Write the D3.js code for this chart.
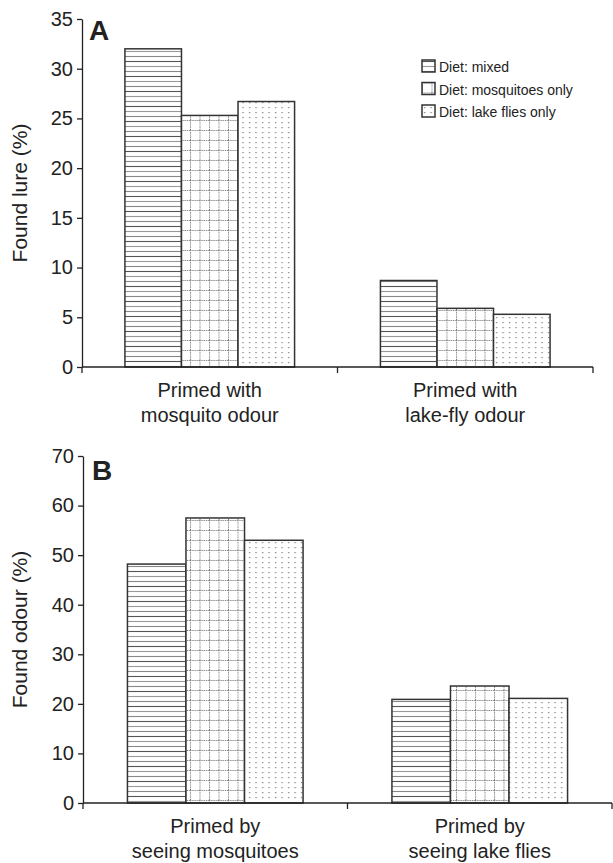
<!DOCTYPE html>
<html>
<head>
<meta charset="utf-8">
<script src="https://cdn.jsdelivr.net/npm/d3@7"></script>
<style>
  body { margin: 0; background: #fff; }
  text { font-family: "Liberation Sans", Arial, sans-serif; fill: #222; }
</style>
</head>
<body>
<div id="drawArea"></div>
<script>
// series (diet groups)
var seriesNames = ['Diet: mixed', 'Diet: mosquitoes only', 'Diet: lake flies only'];
var seriesKeys = ['mixed', 'mosq', 'lake'];

// panel A
var catsA = [['Primed with', 'mosquito odour'], ['Primed with', 'lake-fly odour']];
var valuesA = [[32, 25.3, 26.7], [8.7, 5.9, 5.3]];
var ticksA = [0, 5, 10, 15, 20, 25, 30, 35];

// panel B
var catsB = [['Primed by', 'seeing mosquitoes'], ['Primed by', 'seeing lake flies']];
var valuesB = [[48.2, 57.5, 53], [20.9, 23.6, 21.1]];
var ticksB = [0, 10, 20, 30, 40, 50, 60, 70];

var W = 613, H = 863;

var svg = d3.select('#drawArea')
    .append('svg')
    .attr('width', W)
    .attr('height', H);

// fill patterns
var defs = svg.append('defs');

var pMixed = defs.append('pattern')
    .attr('id', 'pat-mixed')
    .attr('patternUnits', 'userSpaceOnUse')
    .attr('width', 20).attr('height', 15);
pMixed.append('rect').attr('width', 20).attr('height', 15).attr('fill', '#fff');
[[1, '#555'], [6, '#999'], [11, '#888']].forEach(function (l) {
    pMixed.append('line')
        .attr('x1', 0).attr('x2', 20)
        .attr('y1', l[0] + 0.5).attr('y2', l[0] + 0.5)
        .attr('stroke', l[1]).attr('stroke-width', 1.1);
});

var pMosq = defs.append('pattern')
    .attr('id', 'pat-mosq')
    .attr('patternUnits', 'userSpaceOnUse')
    .attr('width', 9.5).attr('height', 10);
pMosq.append('rect').attr('width', 9.5).attr('height', 10).attr('fill', '#fff');
pMosq.append('line')
    .attr('x1', 0.5).attr('x2', 0.5).attr('y1', 0).attr('y2', 10)
    .attr('stroke', '#777').attr('stroke-width', 1).attr('stroke-dasharray', '1.2,1');
pMosq.append('line')
    .attr('x1', 0).attr('x2', 9.5).attr('y1', 0.5).attr('y2', 0.5)
    .attr('stroke', '#777').attr('stroke-width', 1).attr('stroke-dasharray', '1.2,1');

var pLake = defs.append('pattern')
    .attr('id', 'pat-lake')
    .attr('patternUnits', 'userSpaceOnUse')
    .attr('width', 6.5).attr('height', 5);
pLake.append('rect').attr('width', 6.5).attr('height', 5).attr('fill', '#fff');
pLake.append('rect').attr('x', 2).attr('y', 2).attr('width', 1.2).attr('height', 1.2).attr('fill', '#777');

var fills = { mixed: 'url(#pat-mixed)', mosq: 'url(#pat-mosq)', lake: 'url(#pat-lake)' };

function drawPanel(cfg) {
    var g = svg.append('g');

    var y = d3.scaleLinear()
        .domain([0, d3.max(cfg.ticks)])
        .range([cfg.y0, cfg.y1]);

    var x = d3.scaleBand()
        .domain(d3.range(cfg.cats.length))
        .range([cfg.x0, cfg.x1])
        .padding(0);

    var bw = x.bandwidth();
    var xs = d3.scaleBand()
        .domain(seriesKeys)
        .range([bw * 0.168, bw * 0.832])
        .padding(0);

    // bars
    cfg.values.forEach(function (vals, ci) {
        g.selectAll('rect.c' + ci)
            .data(vals)
            .enter()
            .append('rect')
            .attr('class', 'bar c' + ci)
            .attr('x', function (d, i) { return x(ci) + xs(seriesKeys[i]); })
            .attr('y', function (d) { return y(d); })
            .attr('width', xs.bandwidth())
            .attr('height', function (d) { return y(0) - y(d); })
            .attr('fill', function (d, i) { return fills[seriesKeys[i]]; })
            .attr('stroke', '#333')
            .attr('stroke-width', 1.5);
    });

    // y axis
    var yAxis = g.append('g')
        .attr('transform', 'translate(' + cfg.x0 + ',0)')
        .call(d3.axisLeft(y).tickValues(cfg.ticks).tickSize(5).tickSizeOuter(0).tickPadding(4));
    yAxis.select('.domain').attr('stroke', '#222').attr('stroke-width', 1.3);
    yAxis.selectAll('.tick line').attr('stroke', '#222').attr('stroke-width', 1.3);
    yAxis.selectAll('.tick text')
        .attr('font-size', 20)
        .attr('font-family', '"Liberation Sans", Arial, sans-serif')
        .attr('fill', '#222');

    // x axis line and tick marks at band boundaries
    g.append('line')
        .attr('x1', cfg.x0).attr('x2', cfg.x1)
        .attr('y1', y(0)).attr('y2', y(0))
        .attr('stroke', '#222').attr('stroke-width', 1.3);
    var bounds = [cfg.x0].concat(x.domain().map(function (d) { return x(d) + bw; }));
    g.selectAll('line.xt')
        .data(bounds)
        .enter()
        .append('line')
        .attr('class', 'xt')
        .attr('x1', function (d) { return d; })
        .attr('x2', function (d) { return d; })
        .attr('y1', y(0))
        .attr('y2', y(0) + 6)
        .attr('stroke', '#222').attr('stroke-width', 1.3);

    // category labels
    cfg.cats.forEach(function (lines, ci) {
        var t = g.append('text')
            .attr('text-anchor', 'middle')
            .attr('font-size', 20)
            .attr('x', x(ci) + bw / 2)
            .attr('y', y(0) + 30);
        lines.forEach(function (s, li) {
            t.append('tspan')
                .attr('x', x(ci) + bw / 2)
                .attr('dy', li === 0 ? 0 : 25)
                .text(s);
        });
    });

    // y title
    g.append('text')
        .attr('transform', 'translate(' + cfg.titleX + ',' + ((cfg.y0 + cfg.y1) / 2) + ') rotate(-90)')
        .attr('text-anchor', 'middle')
        .attr('font-size', 21)
        .text(cfg.title);

    // panel letter
    g.append('text')
        .attr('x', cfg.letterX)
        .attr('y', cfg.letterY)
        .attr('font-size', 28)
        .attr('font-weight', 'bold')
        .attr('fill', '#111')
        .text(cfg.letter);
}

drawPanel({
    cats: catsA, values: valuesA, ticks: ticksA,
    x0: 82, x1: 593, y0: 367, y1: 19,
    title: 'Found lure (%)', titleX: 27,
    letter: 'A', letterX: 89, letterY: 40
});

drawPanel({
    cats: catsB, values: valuesB, ticks: ticksB,
    x0: 83, x1: 612, y0: 803, y1: 456,
    title: 'Found odour (%)', titleX: 27,
    letter: 'B', letterX: 92, letterY: 480
});

// legend
var legend = svg.append('g')
    .attr('transform', 'translate(422,60)');
var items = legend.selectAll('g')
    .data(seriesNames)
    .enter()
    .append('g')
    .attr('transform', function (d, i) { return 'translate(0,' + (i * 22.5) + ')'; });
items.append('rect')
    .attr('width', 13).attr('height', 12)
    .attr('fill', function (d, i) { return fills[seriesKeys[i]]; })
    .attr('stroke', '#333')
    .attr('stroke-width', 1.5);
items.append('text')
    .attr('x', 17)
    .attr('y', 12)
    .attr('font-size', 14)
    .text(function (d) { return d; });
</script>
</body>
</html>
